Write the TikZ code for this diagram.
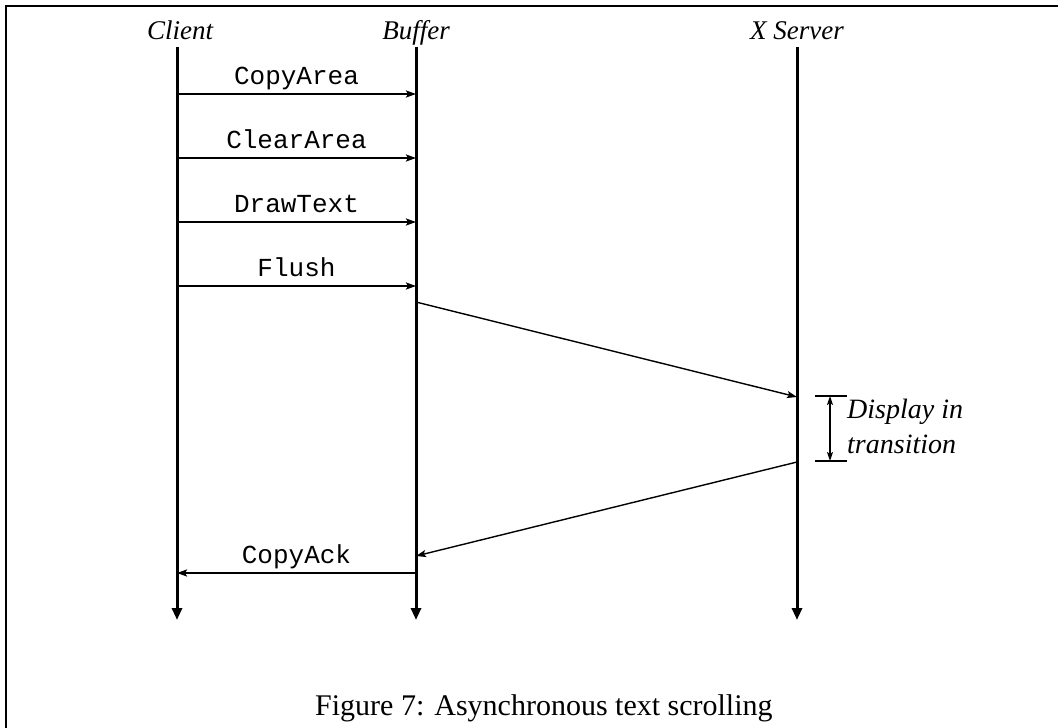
\documentclass[tikz,border=0pt]{standalone}
\usepackage{fontspec}
\setmainfont{Liberation Serif}
\setmonofont{Liberation Mono}
\usetikzlibrary{arrows.meta}
\begin{document}
\begin{tikzpicture}[x=1pt,y=-1pt,
  head/.style={font=\fontsize{27}{30}\selectfont\itshape, anchor=base, inner sep=0pt},
  lifeline/.style={line width=3pt, -{Triangle[length=12pt,width=10pt]}},
  msg/.style={line width=2pt, -{Stealth[length=10pt,width=7pt,inset=2pt]}},
  slant/.style={line width=1.4pt, -{Stealth[length=10pt,width=7pt,inset=2pt]}},
  lbl/.style={font=\fontsize{26}{30}\selectfont\ttfamily, anchor=base, inner sep=0pt, yshift=10pt},
  note/.style={font=\fontsize{28}{35}\selectfont\itshape, align=left, anchor=base west, inner sep=0pt},
  captiontext/.style={font=\fontsize{30}{34}\selectfont, anchor=base west, inner sep=0pt}]
\useasboundingbox (0,0) rectangle (1058,728);

% frame edges
\draw[line width=2.5pt] (6,728) -- (6,6) -- (1058,6);

% participants
\node[head] (client) at (180,39) {Client};
\node[head] (buffer) at (416,39) {Buffer};
\node[head] (xserver) at (797,39) {X Server};

% lifelines
\coordinate (c0) at (177,47);  \coordinate (c1) at (177,620);
\coordinate (b0) at (416,47);  \coordinate (b1) at (416,620);
\coordinate (x0) at (797,47);  \coordinate (x1) at (797,620);
\draw[lifeline] (c0) -- (c1);
\draw[lifeline] (b0) -- (b1);
\draw[lifeline] (x0) -- (x1);

% message end points
\coordinate (c-copy)  at (177,94);  \coordinate (b-copy)  at (416,94);
\coordinate (c-clear) at (177,158); \coordinate (b-clear) at (416,158);
\coordinate (c-draw)  at (177,222); \coordinate (b-draw)  at (416,222);
\coordinate (c-flush) at (177,286); \coordinate (b-flush) at (416,286);
\coordinate (b-send)  at (416,302); \coordinate (x-recv)  at (797,397);
\coordinate (x-send)  at (797,462); \coordinate (b-recv)  at (416,556);
\coordinate (b-ack)   at (416,573); \coordinate (c-ack)   at (177,573);

% messages
\draw[msg] (c-copy)  -- node[lbl] {CopyArea}  (b-copy);
\draw[msg] (c-clear) -- node[lbl] {ClearArea} (b-clear);
\draw[msg] (c-draw)  -- node[lbl] {DrawText}  (b-draw);
\draw[msg] (c-flush) -- node[lbl] {Flush}     (b-flush);
\draw[slant] (b-send) -- (x-recv);
\draw[slant] (x-send) -- (b-recv);
\draw[msg] (b-ack) -- node[lbl] {CopyAck} (c-ack);

% display transition interval
\coordinate (t0l) at (815,396); \coordinate (t0r) at (847,396);
\coordinate (t1l) at (815,461); \coordinate (t1r) at (847,461);
\coordinate (t0) at (830,396);  \coordinate (t1) at (830,461);
\draw[line width=2pt] (t0l) -- (t0r);
\draw[line width=2pt] (t1l) -- (t1r);
\draw[line width=1.4pt, {Stealth[length=9pt,width=6pt,inset=2pt]}-{Stealth[length=9pt,width=6pt,inset=2pt]}] (t0) -- (t1);
\node[note] (disp) at (847,453) {Display in\\transition};

% caption
\node[captiontext] (caption) at (315,715) {Figure 7: Asynchronous text scrolling};
\end{tikzpicture}
\end{document}
